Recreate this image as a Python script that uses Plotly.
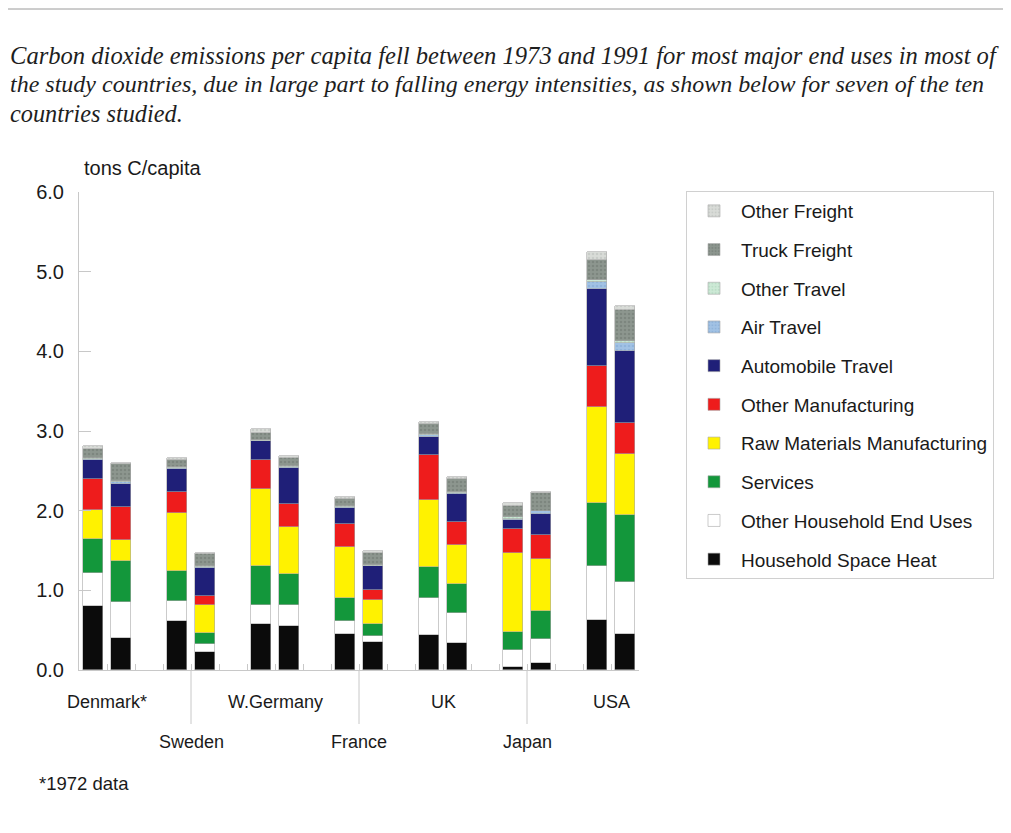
import plotly.graph_objects as go

countries = ["Denmark*", "Sweden", "W.Germany", "France", "UK", "Japan", "USA"]
years = ["1973", "1991"]

# values per bar, order: Den73, Den91, Swe73, Swe91, WG73, WG91, Fr73, Fr91, UK73, UK91, Jp73, Jp91, US73, US91
household_space_heat = [0.80, 0.40, 0.62, 0.22, 0.58, 0.55, 0.45, 0.35, 0.44, 0.34, 0.04, 0.09, 0.63, 0.45]
other_household      = [0.42, 0.45, 0.25, 0.11, 0.24, 0.26, 0.16, 0.08, 0.46, 0.37, 0.21, 0.30, 0.67, 0.65]
services             = [0.43, 0.52, 0.37, 0.14, 0.48, 0.39, 0.30, 0.15, 0.39, 0.37, 0.23, 0.35, 0.80, 0.84]
raw_materials_mfg    = [0.36, 0.26, 0.73, 0.35, 0.97, 0.60, 0.63, 0.30, 0.85, 0.49, 0.99, 0.65, 1.20, 0.77]
other_mfg            = [0.39, 0.42, 0.26, 0.11, 0.36, 0.29, 0.29, 0.12, 0.56, 0.29, 0.30, 0.31, 0.51, 0.39]
automobile_travel    = [0.23, 0.28, 0.29, 0.35, 0.24, 0.44, 0.20, 0.30, 0.23, 0.35, 0.11, 0.26, 0.97, 0.90]
air_travel           = [0.02, 0.03, 0.02, 0.01, 0.01, 0.02, 0.02, 0.01, 0.02, 0.01, 0.02, 0.03, 0.09, 0.11]
other_travel         = [0.01, 0.01, 0.01, 0.01, 0.01, 0.01, 0.01, 0.01, 0.01, 0.01, 0.02, 0.01, 0.03, 0.02]
truck_freight        = [0.12, 0.21, 0.08, 0.15, 0.09, 0.10, 0.09, 0.15, 0.13, 0.17, 0.14, 0.22, 0.25, 0.39]
other_freight        = [0.03, 0.02, 0.03, 0.02, 0.04, 0.02, 0.02, 0.03, 0.02, 0.02, 0.04, 0.02, 0.10, 0.05]

series = [
    ("Household Space Heat", household_space_heat, "#0b0b0b", None),
    ("Other Household End Uses", other_household, "#ffffff", None),
    ("Services", services, "#13973b", None),
    ("Raw Materials Manufacturing", raw_materials_mfg, "#fff200", None),
    ("Other Manufacturing", other_mfg, "#ee1c1c", None),
    ("Automobile Travel", automobile_travel, "#1f1f78", None),
    ("Air Travel", air_travel, "#a2c2e4", "#7fa6d2"),
    ("Other Travel", other_travel, "#cde9d6", "#a9d3b8"),
    ("Truck Freight", truck_freight, "#8d968f", "#6d766f"),
    ("Other Freight", other_freight, "#d9dcd8", "#b8bcb8"),
]

title_lines = [
    "Carbon dioxide emissions per capita fell between 1973 and 1991 for most major end uses in most of",
    "the study countries, due in large part to falling energy intensities, as shown below for seven of the ten",
    "countries studied.",
]
title_sizes = [24.6, 24.0, 24.3]

# slot positions: two bars per country, one empty slot between countries
xpos = [3 * ci + yi for ci in range(len(countries)) for yi in range(len(years))]
hover_labels = [f"{c.rstrip('*')} {y}" for c in countries for y in years]

fig = go.Figure()
n = len(series)
for i, (name, vals, color, pat) in enumerate(series):
    marker = dict(color=color, line=dict(color="#a8a8a8", width=0.6))
    if pat:
        marker["pattern"] = dict(shape=".", fgcolor=pat, size=4, solidity=0.35)
    fig.add_trace(go.Bar(
        x=xpos, y=vals, name=name, width=0.68, marker=marker,
        legendgroup=name, legendrank=(n - i) * 10, customdata=hover_labels,
        hovertemplate="%{customdata}<br>" + name + ": %{y:.2f}<extra></extra>",
    ))

OFF = 8  # page body margin
W, H = 1003, 825
L, T = 71, 184
pw, ph = 560, 478
R = W - L - pw
B = H - T - ph

def px_x(x):
    return (x - OFF - L) / pw

def px_y(y):
    return (T + ph - (y - OFF)) / ph

sans = "Liberation Sans, Arial, Helvetica, sans-serif"
annotations = []
shapes = []
for ci, c in enumerate(countries):
    center = 3 * ci + 0.5
    lower = ci % 2 == 1
    annotations.append(dict(
        x=center, xref="x", y=px_y(742 if lower else 702), yref="paper",
        text=c, showarrow=False, xanchor="center", yanchor="middle",
        font=dict(family=sans, size=18, color="#1a1a1a"),
    ))
    if lower:
        shapes.append(dict(type="line", xref="x", yref="paper", x0=center, x1=center,
                           y0=0, y1=px_y(724), line=dict(color="#c8c8c8", width=1)))

for li, line in enumerate(title_lines):
    annotations.append(dict(
        x=px_x(8), y=px_y(56 + 28.5 * li), xref="paper", yref="paper",
        xanchor="left", yanchor="middle", align="left", showarrow=False, text=line,
        font=dict(family="Liberation Serif, Times New Roman, serif", size=title_sizes[li],
                  style="italic", color="#1e1e1e"),
    ))
annotations.append(dict(
    x=px_x(82), y=px_y(168), xref="paper", yref="paper", xanchor="left", yanchor="middle",
    showarrow=False, text="tons C/capita", font=dict(family=sans, size=20, color="#1a1a1a"),
))
annotations.append(dict(
    x=px_x(37), y=px_y(783), xref="paper", yref="paper", xanchor="left", yanchor="middle",
    showarrow=False, text="*1972 data", font=dict(family=sans, size=18.5, color="#1a1a1a"),
))
shapes.append(dict(type="line", xref="paper", yref="paper", x0=px_x(OFF), x1=px_x(OFF + W),
                   y0=px_y(9), y1=px_y(9), line=dict(color="#9a9a9a", width=1)))

fig.update_layout(
    width=W, height=H,
    margin=dict(l=L, r=R, t=T, b=B, autoexpand=False),
    paper_bgcolor="#ffffff", plot_bgcolor="#ffffff",
    barmode="stack", bargap=0,
    font=dict(family=sans, size=19, color="#1a1a1a"),
    xaxis=dict(range=[-0.5, 19.5], tickvals=[k - 0.5 for k in range(21)], showticklabels=False,
               ticks="inside", ticklen=6, tickcolor="#c8c8c8", showline=True, linecolor="#c8c8c8",
               showgrid=False, zeroline=False, fixedrange=True),
    yaxis=dict(range=[0, 6], dtick=1, tickformat=".1f", ticks="inside", ticklen=12,
               tickcolor="#c8c8c8", showline=True, linecolor="#c8c8c8", showgrid=False,
               zeroline=False, ticklabelstandoff=10, tickfont=dict(size=20), fixedrange=True),
    legend=dict(x=px_x(686), y=px_y(191), xanchor="left", yanchor="top",
                traceorder="grouped", tracegroupgap=11, itemwidth=44,
                bordercolor="#d0d0d0", borderwidth=1, bgcolor="#ffffff",
                font=dict(size=19, color="#1a1a1a")),
    annotations=annotations, shapes=shapes,
    showlegend=True,
)

fig.write_html("out.html")
